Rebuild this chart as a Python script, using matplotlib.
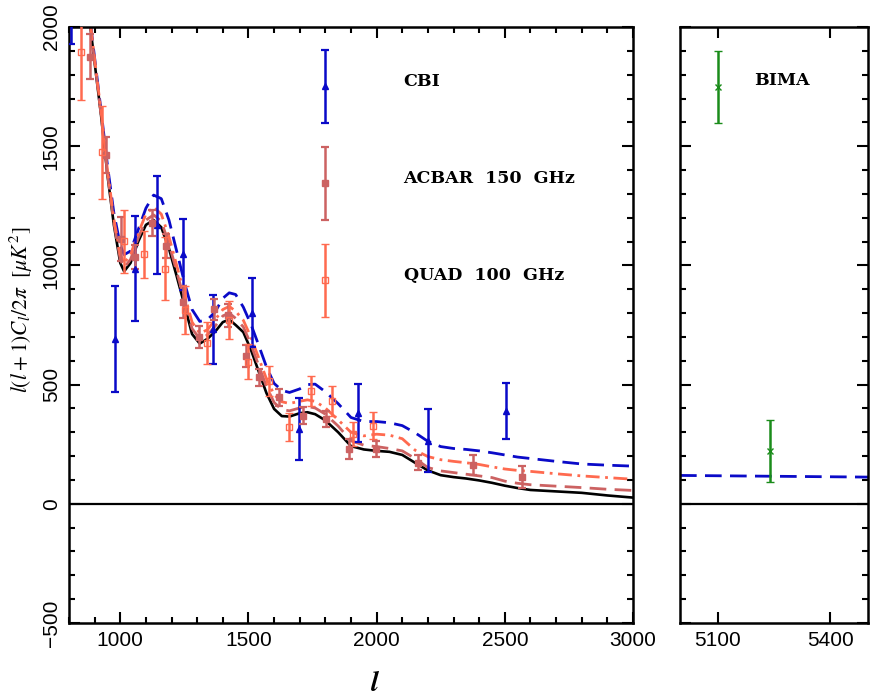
import matplotlib
matplotlib.use('Agg')
import matplotlib.pyplot as plt
from matplotlib.ticker import MultipleLocator, FixedLocator
from matplotlib.container import ErrorbarContainer
from matplotlib.legend_handler import HandlerErrorbar

plt.rcParams['font.family'] = 'Liberation Sans'
plt.rcParams['mathtext.fontset'] = 'stix'

# model curves
ell = [850, 880, 900, 925, 950, 975, 1000, 1015, 1040, 1070, 1100, 1130, 1160, 1190,
       1220, 1250, 1280, 1310, 1340, 1370, 1400, 1425, 1450, 1480, 1510, 1540, 1570,
       1600, 1630, 1660, 1700, 1730, 1760, 1800, 1850, 1900, 1950, 2000, 2050, 2100,
       2150, 2200, 2250, 2300, 2350, 2400, 2450, 2500, 2550, 2600, 2700, 2800, 2900, 3000]
cmb = [2350, 2030, 1850, 1630, 1380, 1170, 1010, 975, 1010, 1100, 1170, 1190, 1160, 1070,
       955, 835, 712, 672, 692, 722, 762, 773, 750, 720, 645, 555, 465,
       398, 368, 366, 380, 384, 376, 350, 300, 242, 228, 222, 218, 205,
       172, 140, 120, 112, 106, 98, 88, 76, 66, 58, 52, 46, 35, 26]
cmb_sz_cbi = [2400, 2050, 1870, 1650, 1420, 1220, 1085, 1045, 1060, 1150, 1240, 1295, 1280, 1190,
              1060, 930, 815, 765, 772, 805, 862, 885, 878, 825, 752, 665, 575,
              505, 476, 467, 482, 500, 502, 470, 420, 362, 345, 345, 340, 328,
              298, 262, 240, 232, 228, 222, 214, 205, 196, 190, 178, 167, 162, 158]
cmb_sz_acbar = [2350, 2035, 1855, 1635, 1385, 1180, 1025, 990, 1025, 1115, 1190, 1212, 1185, 1090,
                975, 855, 735, 692, 708, 745, 788, 800, 778, 742, 668, 580, 492,
                425, 395, 390, 402, 408, 402, 376, 326, 264, 246, 240, 232, 222,
                190, 152, 138, 131, 124, 117, 110, 95, 86, 80, 74, 68, 61, 56]
cmb_sz_quad = [2370, 2045, 1865, 1645, 1400, 1195, 1045, 1010, 1045, 1135, 1215, 1245, 1215, 1120,
               1000, 880, 762, 715, 730, 772, 815, 828, 808, 770, 698, 612, 525,
               458, 428, 421, 430, 436, 430, 402, 352, 300, 285, 292, 288, 273,
               225, 198, 185, 178, 172, 165, 155, 146, 140, 136, 126, 117, 110, 103]

# band powers
cbi_l = [806, 978, 1059, 1144, 1246, 1362, 1512, 1699, 1928, 2202, 2503]
cbi_y = [2300, 690, 986, 1168, 1046, 732, 802, 314, 381, 265, 390]
cbi_err = [370, 223, 221, 206, 150, 145, 145, 129, 122, 131, 118]

acbar_l = [880, 945, 1003, 1059, 1124, 1179, 1245, 1307, 1364, 1422, 1490, 1543, 1621,
           1712, 1801, 1893, 1997, 2163, 2375, 2568]
acbar_y = [1876, 1464, 1109, 1036, 1178, 1081, 847, 700, 816, 790, 620, 530, 446,
           370, 356, 230, 230, 172, 163, 112]
acbar_err = [93, 75, 92, 50, 56, 50, 66, 45, 45, 50, 45, 35, 35,
             35, 35, 40, 35, 31, 43, 47]

quad_l = [848, 928, 1013, 1092, 1174, 1252, 1338, 1425, 1497, 1582, 1660, 1745, 1826, 1906, 1987]
quad_y = [1894, 1474, 1102, 1046, 986, 812, 674, 770, 596, 516, 321, 474, 432, 293, 328]
quad_err = [202, 195, 132, 98, 132, 101, 87, 80, 73, 63, 59, 63, 63, 49, 57]

bima_l = [5100, 5240]
bima_y = [1748, 220]
bima_err = [150, 130]

high_l = [5000, 5500]
high_cbi = [119, 112]

blue = '#0a0ac8'
dred = '#cc6262'
orng = '#ff6a4f'
green = '#1a8c1a'


class LowErrorbar(HandlerErrorbar):
    # puts the legend marker a little below the label's middle, as in the original
    def create_artists(self, legend, orig_handle, xdescent, ydescent, width, height,
                       fontsize, trans):
        return super().create_artists(legend, orig_handle, xdescent, ydescent + 21,
                                      width, height, fontsize, trans)


fig = plt.figure(figsize=(8.72, 6.96), dpi=100)
ax = fig.add_axes([69 / 872, 73 / 696, 564 / 872, 596 / 696])
ax2 = fig.add_axes([680 / 872, 73 / 696, 188 / 872, 596 / 696])

ax.axhline(0, color='black', lw=1.6, zorder=1)
ax.plot(ell, cmb, color='black', lw=1.9, zorder=2)
ax.plot(ell, cmb_sz_cbi, color=blue, lw=2.0, dashes=(6, 3), zorder=2)
ax.plot(ell, cmb_sz_acbar, color=dred, lw=2.0, dashes=(6, 3), zorder=2)
ax.plot(ell, cmb_sz_quad, color=orng, lw=2.0, dashes=(5, 2, 1, 2), zorder=2)

ebkw = dict(linestyle='none', capsize=3, elinewidth=1.8, capthick=1.6, zorder=3)
h_cbi = ax.errorbar(cbi_l, cbi_y, yerr=cbi_err, fmt='^', color=blue, ms=5, **ebkw)
h_acbar = ax.errorbar(acbar_l, acbar_y, yerr=acbar_err, fmt='s', color=dred, ms=4, **ebkw)
h_quad = ax.errorbar(quad_l, quad_y, yerr=quad_err, fmt='s', color=orng, mfc='none',
                     ms=5, mew=1.0, **ebkw)

leg = ax.legend([h_cbi, h_acbar, h_quad], ['CBI', 'ACBAR  150  GHz', 'QUAD  100  GHz'],
                handler_map={ErrorbarContainer: LowErrorbar(xerr_size=0.3, yerr_size=2.1)},
                loc='upper left', bbox_to_anchor=(0.424, 0.950), borderpad=0, borderaxespad=0,
                frameon=False, handlelength=2, handleheight=4, labelspacing=2.75,
                handletextpad=3.5, prop={'family': 'DejaVu Serif', 'weight': 'bold', 'size': 12.5})

ax.set_xlim(800, 3000)
ax.set_ylim(-500, 2000)
ax.xaxis.set_major_locator(MultipleLocator(500))
ax.xaxis.set_minor_locator(MultipleLocator(100))
ax.yaxis.set_major_locator(MultipleLocator(500))
ax.yaxis.set_minor_locator(MultipleLocator(100))
ax.set_xlabel(r'$\boldsymbol{l}$', fontsize=20, va='center')
ax.xaxis.set_label_coords((375 - 69) / 564, -0.103)
ax.set_ylabel(r'$l(l+1)C_l/2\pi\ \ [\mu K^2]$', fontsize=15.5, va='center')
ax.yaxis.set_label_coords(-0.085, 0.525)

ax2.axhline(0, color='black', lw=1.6, zorder=1)
ax2.plot(high_l, high_cbi, color=blue, lw=2.0, dashes=(6, 3), zorder=2)
ax2.errorbar(bima_l, bima_y, yerr=bima_err, fmt='x', color=green, ms=5, mew=1.0, **ebkw)
ax2.text(0.54, 0.91, 'BIMA', transform=ax2.transAxes, ha='center', va='center',
         family='DejaVu Serif', weight='bold', fontsize=12.5)
ax2.set_xlim(5000, 5500)
ax2.set_ylim(-500, 2000)
ax2.xaxis.set_major_locator(FixedLocator([5100, 5400]))
ax2.yaxis.set_major_locator(MultipleLocator(500))
ax2.yaxis.set_minor_locator(MultipleLocator(100))
ax2.tick_params(axis='y', labelleft=False)

for a in (ax, ax2):
    for s in a.spines.values():
        s.set_linewidth(1.8)
    a.tick_params(which='both', direction='in', top=True, right=True, width=1.5)
    a.tick_params(which='major', length=8, labelsize=15, pad=6)
    a.tick_params(which='minor', length=4.5)
ax.tick_params(axis='y', labelrotation=90)
for t in ax.get_yticklabels():
    t.set_va('center')

fig.savefig('out.png', dpi=100)
